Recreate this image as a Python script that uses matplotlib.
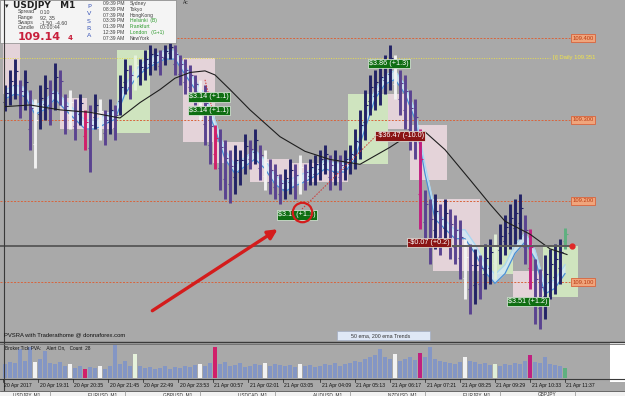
import matplotlib
matplotlib.use('Agg')
import matplotlib.pyplot as plt
from matplotlib.patches import Rectangle

# ---------------- data ----------------
bar_high = [109.343, 109.361, 109.374, 109.349, 109.361, 109.337, 109.325, 109.343, 109.355, 109.349,
            109.370, 109.361, 109.331, 109.337, 109.325, 109.331, 109.312, 109.318, 109.331, 109.325,
            109.312, 109.325, 109.318, 109.355, 109.374, 109.367, 109.380, 109.374, 109.386, 109.392,
            109.388, 109.386, 109.392, 109.396, 109.392, 109.380, 109.374, 109.367, 109.355, 109.349,
            109.343, 109.312, 109.294, 109.288, 109.275, 109.263, 109.269, 109.263, 109.282, 109.275,
            109.288, 109.269, 109.263, 109.251, 109.245, 109.233, 109.239, 109.251, 109.245, 109.257,
            109.245, 109.251, 109.257, 109.263, 109.269, 109.257, 109.263, 109.257, 109.263, 109.269,
            109.288, 109.312, 109.337, 109.355, 109.361, 109.367, 109.380, 109.392, 109.380, 109.361,
            109.355, 109.337, 109.325, 109.288, 109.214, 109.202, 109.208, 109.196, 109.202, 109.190,
            109.183, 109.177, 109.153, 109.147, 109.141, 109.134, 109.147, 109.153, 109.159, 109.171,
            109.183, 109.196, 109.202, 109.208, 109.183, 109.165, 109.128, 109.116, 109.134, 109.141,
            109.147, 109.153, 109.167]
bar_low = [109.310, 109.318, 109.325, 109.302, 109.312, 109.263, 109.241, 109.288, 109.300, 109.294,
           109.312, 109.318, 109.282, 109.288, 109.275, 109.294, 109.263, 109.236, 109.288, 109.275,
           109.269, 109.282, 109.275, 109.306, 109.331, 109.325, 109.337, 109.343, 109.349, 109.355,
           109.361, 109.355, 109.367, 109.374, 109.355, 109.343, 109.331, 109.325, 109.318, 109.300,
           109.269, 109.245, 109.239, 109.214, 109.202, 109.198, 109.208, 109.220, 109.233, 109.239,
           109.245, 109.226, 109.214, 109.208, 109.202, 109.196, 109.202, 109.208, 109.202, 109.208,
           109.214, 109.220, 109.220, 109.226, 109.233, 109.214, 109.220, 109.214, 109.226, 109.233,
           109.239, 109.251, 109.275, 109.306, 109.312, 109.318, 109.331, 109.337, 109.325, 109.306,
           109.288, 109.263, 109.251, 109.165, 109.153, 109.122, 109.141, 109.134, 109.147, 109.128,
           109.122, 109.104, 109.079, 109.061, 109.073, 109.079, 109.091, 109.098, 109.104, 109.122,
           109.134, 109.141, 109.147, 109.153, 109.122, 109.091, 109.049, 109.042, 109.055, 109.079,
           109.085, 109.098, 109.141]

fast_idx = list(range(0, 113, 2))
fast_ema = [109.331, 109.337, 109.334, 109.312, 109.318, 109.331, 109.318, 109.306, 109.294, 109.294,
            109.300, 109.306, 109.337, 109.355, 109.367, 109.374, 109.380, 109.380, 109.361, 109.343,
            109.325, 109.294, 109.257, 109.239, 109.248, 109.257, 109.245, 109.226, 109.217, 109.224,
            109.229, 109.236, 109.245, 109.241, 109.241, 109.257, 109.294, 109.331, 109.349, 109.355,
            109.337, 109.306, 109.239, 109.183, 109.171, 109.159, 109.159, 109.141, 109.118, 109.104,
            109.116, 109.141, 109.155, 109.134, 109.091, 109.098, 109.116]

slow_idx = [0, 5, 11, 17, 23, 27, 31, 34, 37, 40, 42, 45, 49, 55, 60, 65, 71, 77, 81, 84, 88, 93,
            97, 100, 105, 109, 112.4]
slow_ma = [109.316, 109.318, 109.312, 109.309, 109.302, 109.321, 109.337, 109.351, 109.358, 109.360,
           109.355, 109.337, 109.312, 109.279, 109.261, 109.251, 109.245, 109.266, 109.282, 109.285,
           109.263, 109.226, 109.196, 109.175, 109.159, 109.141, 109.134]

volume = [14, 16, 15, 30, 18, 32, 16, 20, 28, 15, 14, 16,
          12, 14, 10, 12, 9, 11, 10, 12, 9, 12, 34,
          14, 18, 12, 25, 12, 10, 11, 9, 10, 12, 9, 11,
          10, 12, 11, 13, 14, 12, 15, 32,
          14, 16, 12, 13, 15, 11, 12, 14, 13, 15, 12, 14, 13,
          12, 13, 11, 14, 12, 13, 11, 12, 14, 13, 15, 12, 14,
          15, 18, 16, 20, 22, 24, 30, 22, 20, 25, 18, 20, 22, 19,
          26, 22, 32, 20, 18, 16, 15, 14, 16, 22, 18, 16, 14, 15, 13, 14, 12, 14, 13, 15, 14, 18,
          24, 16, 15, 22, 14, 13, 12, 10]

highlight_bars = {6: '#f2f2f2', 13: '#f2f2f2', 16: '#d0206a', 19: '#f2f2f2', 26: '#e6f2dc',
                  39: '#f2f2f2', 42: '#d0206a', 52: '#f2f2f2', 59: '#f2f2f2', 78: '#f2f2f2',
                  83: '#c02080', 92: '#f2f2f2', 98: '#e0eed8', 105: '#c02080', 112: '#5fb080'}

# zones: (start index, end index, top price, bottom price, kind)
zones = [(-0.4, 3.0, 109.398, 109.331, 'down'),
         (11.0, 16.4, 109.327, 109.288, 'down'),
         (16.4, 22.4, 109.309, 109.288, 'down'),
         (22.4, 29.0, 109.386, 109.284, 'up'),
         (35.6, 42.0, 109.376, 109.273, 'down'),
         (41.6, 48.4, 109.272, 109.247, 'down'),
         (49.0, 57.0, 109.251, 109.223, 'down'),
         (57.4, 68.6, 109.247, 109.223, 'down'),
         (68.6, 76.6, 109.331, 109.245, 'up'),
         (76.6, 81.0, 109.331, 109.288, 'down'),
         (81.0, 88.4, 109.294, 109.226, 'down'),
         (85.6, 95.0, 109.202, 109.114, 'down'),
         (95.0, 101.6, 109.143, 109.110, 'up'),
         (101.6, 108.4, 109.114, 109.082, 'down'),
         (107.6, 114.6, 109.144, 109.082, 'up')]

# trades: (index, price, text, kind)
trades = [(36.8, 109.328, '$3.14 (+1.1)', 'win'),
          (36.8, 109.311, '$3.14 (+1.1)', 'win'),
          (54.6, 109.183, '$3.1  (+1.1)', 'win'),
          (72.8, 109.369, '$3.86 (+1.3)', 'win'),
          (74.2, 109.280, '-$36.47 (-10.0)', 'loss'),
          (80.6, 109.149, '-$0.07 (+0.2)', 'loss'),
          (100.6, 109.076, '$3.51 (+1.2)', 'win')]

levels = [109.400, 109.300, 109.200, 109.100]
level_labels = ['109.400', '109.300', '109.200', '109.100']
daily_level = 109.376
daily_label = '[i] Daily 109.351'
current_price = 109.144

tick_pos = [-0.4, 6.6, 13.6, 20.6, 27.6, 34.6, 41.6, 48.6, 55.6, 63, 70, 77, 84, 91, 98, 105, 112]
tick_labels = ['20 Apr 2017', '20 Apr 19:31', '20 Apr 20:35', '20 Apr 21:45', '20 Apr 22:49',
               '20 Apr 23:53', '21 Apr 00:57', '21 Apr 02:01', '21 Apr 03:05', '21 Apr 04:09',
               '21 Apr 05:13', '21 Apr 06:17', '21 Apr 07:21', '21 Apr 08:25', '21 Apr 09:29',
               '21 Apr 10:33', '21 Apr 11:37']

sessions = [('09:39 PM', 'Sydney', False), ('08:39 PM', 'Tokyo', False),
            ('07:39 PM', 'HongKong', False), ('03:39 PM', 'Helsinki  (B)', True),
            ('01:39 PM', 'Frankfurt', True), ('12:39 PM', 'London   (G+1)', True),
            ('07:39 AM', 'NewYork', False)]

# ---------------- figure ----------------
BG = '#a9a9a9'
W, H = 625, 396
fig = plt.figure(figsize=(6.25, 3.96), dpi=100, facecolor=BG)
small = ['Liberation Sans', 'DejaVu Sans']

ax = fig.add_axes([0, 55 / H, 1, 341 / H])
ax.set_facecolor(BG)
ax.set_xlim(-1, 124)
ax.set_ylim(109.0276, 109.4472)
ax.axis('off')

# zones
for s, e, top, bot, kind in zones:
    ax.add_patch(Rectangle((s, bot), e - s, top - bot, facecolor='#cfe4bf' if kind == 'up' else '#e4d3d9',
                           edgecolor='none', zorder=1))

# levels
ax.hlines(levels, -1, 113, colors='#d8643c', linestyles=(0, (2, 1.5)), lw=0.7, zorder=2)
for lv, lab in zip(levels, level_labels):
    ax.text(113.5, lv, lab, fontsize=4.2, family=small, color='#b83a12', va='center', ha='left',
            bbox=dict(boxstyle='square,pad=0.25', fc='#f0a57c', ec='#d8643c', lw=0.6), zorder=6)
ax.hlines(daily_level, -1, 109, colors='#e8dc50', linestyles=(0, (1, 1.5)), lw=0.7, zorder=2)
ax.text(109.6, daily_level, daily_label, fontsize=4.2, family=small, color='#f2e448', va='center', ha='left', zorder=6)

# fast EMA band
band = 0.0055
lo = [v - band for v in fast_ema]
hi = [v + band for v in fast_ema]
ax.fill_between(fast_idx, lo, hi, color='#d2e9f6', alpha=0.85, lw=0, zorder=2.5)
ax.plot(fast_idx, hi, color='#a8d6f2', lw=0.9, zorder=2.6)
ax.plot(fast_idx, lo, color='#4a90d4', lw=0.9, zorder=2.6)

# price bars
prev_mid = None
for i, (h, l) in enumerate(zip(bar_high, bar_low)):
    mid = (h + l) / 2
    col = '#232366' if (prev_mid is None or mid >= prev_mid) else '#5a4390'
    col = highlight_bars.get(i, col)
    ax.vlines(i, l, h, colors=col, lw=2.1, zorder=3)
    ax.hlines([l + (h - l) * 0.35], i - 0.5, i, colors=col, lw=0.8, zorder=3)
    ax.hlines([l + (h - l) * 0.7], i, i + 0.5, colors=col, lw=0.8, zorder=3)
    prev_mid = mid

# slow MA
ax.plot(slow_idx, slow_ma, color='#1e1e1e', lw=0.8, zorder=4)

# current price
ax.hlines(current_price, -1, 113, colors='#5c5c5c', lw=1.4, zorder=4)
ax.plot([113.4], [current_price], 'o', color='#e02828', ms=3.5, zorder=6)

# trade connector lines
ax.plot([59.4, 74.2], [109.190, 109.280], color='#d03030', ls=(0, (1.5, 1.5)), lw=0.7, zorder=4)
ax.plot([40.0, 41.6], [109.349, 109.309], color='#d03030', ls=(0, (1.5, 1.5)), lw=0.7, zorder=4)

# trade labels
for i, p, txt, kind in trades:
    ax.text(i, p, txt, fontsize=5.2, family=small, color='white', va='center', ha='left',
            bbox=dict(boxstyle='square,pad=0.18', fc='#0f6e12' if kind == 'win' else '#8a1414',
                      ec='#e8f0e8', lw=0.5), zorder=7)

# annotation arrow + circle
ax.annotate('', xy=(55.0, 109.167), xytext=(29.0, 109.063),
            arrowprops=dict(arrowstyle='-|>', color='#d41c1c', lw=2.4, mutation_scale=14), zorder=8)
ax.plot([59.4], [109.186], 'o', mfc='none', mec='#d41c1c', mew=1.6, ms=14, zorder=8)

# volume panel
vax = fig.add_axes([0, 18 / H, 1, 35 / H])
vax.set_facecolor(BG)
vax.set_xlim(-1, 124)
vax.set_ylim(0, 36)
vax.axis('off')
vcols = [highlight_bars.get(i, '#8496c4') for i in range(len(volume))]
vax.bar(range(len(volume)), volume, width=0.85, color=vcols, lw=0, zorder=2)

# ---------------- chrome overlay ----------------
ov = fig.add_axes([0, 0, 1, 1], zorder=10)
ov.set_xlim(0, W)
ov.set_ylim(H, 0)
ov.axis('off')
ov.patch.set_alpha(0)

# borders / separators
ov.plot([3.5, 3.5], [0, 390], color='#3a3a3a', lw=0.8)
ov.plot([0, W], [341.5, 341.5], color='#3a3a3a', lw=1.0)
ov.plot([0, W], [343.5, 343.5], color='#6a6a6a', lw=0.6)
ov.plot([0, W], [378.5, 378.5], color='#3a3a3a', lw=0.8)
ov.add_patch(Rectangle((610, 343), 15, 39, fc='white', ec='none'))

# info box
ov.add_patch(Rectangle((0, 0), 176, 43, fc='#f4f4f4', ec='#888888', lw=0.5))
ov.text(5, 6, '\u25be', fontsize=5, color='#202020', va='center')
ov.text(13, 6, 'USDJPY   M1', fontsize=6.5, weight='bold', color='#202020', va='center')
info = [('Spread', '0.10'), ('Range', '92, 35'), ('Swaps', '-1.50, -4.60'), ('Candle', '00:00:44')]
for k, (a, b) in enumerate(info):
    y = 12 + k * 5.3
    ov.text(18, y, a, fontsize=3.8, family=small, color='#404040', va='center')
    ov.text(40, y, b, fontsize=3.8, family=small, color='#404040', va='center')
ov.text(18, 37, '109.14', fontsize=8, weight='bold', color='#c8203c', va='center')
ov.text(68, 38, '4', fontsize=5, weight='bold', color='#c8203c', va='center')
for k, ch in enumerate('PVSRA'):
    ov.text(89, 6.5 + k * 7.3, ch, fontsize=4.6, color='#3a56b8', va='center', ha='center')
for k, (t, name, green) in enumerate(sessions):
    y = 3.5 + k * 5.8
    ov.text(103, y, t, fontsize=3.6, family=small, color='#404040', va='center')
    ov.text(130, y, name, fontsize=3.6, family=small, color='#2a9a2a' if green else '#404040', va='center')

ov.text(183, 2.5, 'Ac', fontsize=3.5, family=small, color='#303030', va='center')

# footnotes
ov.text(4, 334.5, 'PVSRA with Traderathome @ donnaforex.com', fontsize=4.2, family=small, color='#101010', va='center')
ov.add_patch(Rectangle((337, 331), 93, 8.5, fc='#dfe8f6', ec='#9aa6c0', lw=0.4))
ov.text(351, 335.3, '50 ema, 200 ema Trends', fontsize=3.8, family=small, color='#303030', va='center')
ov.text(5, 347.5, 'Broker Tick PVA:    Alert On,   Count  28', fontsize=3.4, family=small, color='#101010', va='center')

# x ticks (positioned to match the data axes)
for pos, lab in zip(tick_pos, tick_labels):
    xp = (pos + 1) / 125 * W
    ov.plot([xp, xp], [378.5, 382], color='#202020', lw=0.5)
    ov.text(xp + 1.5, 385, lab, fontsize=3.7, family=small, color='#101010', va='center', ha='left')

# tab strip
ov.add_patch(Rectangle((0, 390.5), W, 6, fc='#f2f2f2', ec='none'))
ov.plot([0, W], [390.5, 390.5], color='#505050', lw=0.6)
tabs = ['USDJPY, M1', 'EURUSD, M1', 'GBPUSD, M1', 'USDCAD, M1', 'AUDUSD, M1', 'NZDUSD, M1', 'EURJPY, M1', 'GBPJPY']
for k, t in enumerate(tabs):
    x0 = 5 + k * 75
    ov.plot([x0 + 45, x0 + 45], [391, 396], color='#909090', lw=0.5)
    ov.text(x0 + 8, 394.5, t, fontsize=3.4, family=small, color='#303030', va='center')

fig.savefig('out.png', dpi=100, facecolor=BG)
